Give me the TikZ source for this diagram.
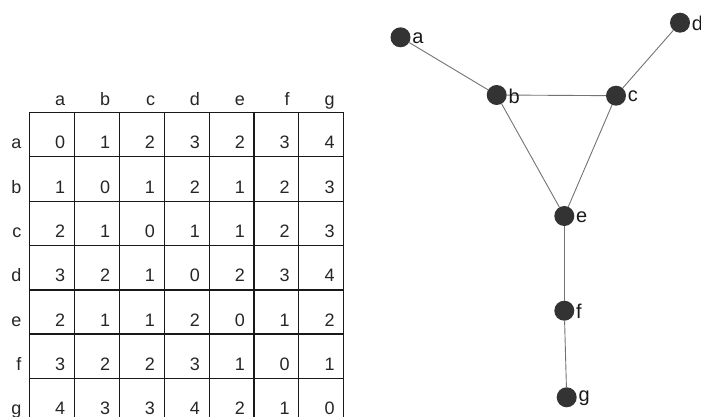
\documentclass[tikz,border=0pt]{standalone}
\usepackage{fontspec}
\setmainfont{Liberation Sans}
\begin{document}
\begin{tikzpicture}[x=1pt,y=-1pt,
  cell/.style={anchor=base east,inner sep=0pt,font=\fontsize{18}{18}\selectfont,text=black!85},
  vert/.style={circle,fill=black!80,draw=none,minimum size=20pt,inner sep=0pt},
  vlab/.style={anchor=west,inner sep=0pt,font=\fontsize{20}{20}\selectfont,text=black!90},
  edge/.style={draw=black!55,line width=0.9pt},
  grid/.style={draw=black!90,line width=1.1pt}]
\useasboundingbox (0,0) rectangle (701,417);
\begin{scope}
\clip (0,0) rectangle (701,417);
% table grid
\foreach \i in {0,...,7} {
  \pgfmathsetmacro\xx{29.5+44.9*\i}
  \draw[grid] (\xx,112.5) -- (\xx,422.6);
  \pgfmathsetmacro\yy{112.5+44.3*\i}
  \draw[grid] (29.5,\yy) -- (343.8,\yy);
}
\draw[grid,line width=1.6pt] (29.5,289.7) -- (343.8,289.7);
% headers
\foreach \l [count=\c] in {a,b,c,d,e,f,g} {
  \pgfmathsetmacro\xx{29.5+44.9*\c-9}
  \node[cell] (h-\c) at (\xx,106) {\l};
  \pgfmathsetmacro\yy{112.5+44.3*\c-8}
  \node[cell] (r-\c) at (21.5,\yy) {\l};
}
% values
\foreach \row [count=\r] in {{0,1,2,3,2,3,4},{1,0,1,2,1,2,3},{2,1,0,1,1,2,3},{3,2,1,0,2,3,4},{2,1,1,2,0,1,2},{3,2,2,3,1,0,1},{4,3,3,4,2,1,0}} {
  \foreach \v [count=\c] in \row {
    \pgfmathsetmacro\xx{29.5+44.9*\c-9}
    \pgfmathsetmacro\yy{112.5+44.3*\r-8}
    \node[cell] (v-\r-\c) at (\xx,\yy) {\v};
  }
}
% graph
\node[vert] (a) at (400.5,37.3) {};
\node[vert] (b) at (496.7,95) {};
\node[vert] (c) at (616,95.7) {};
\node[vert] (d) at (680,22.7) {};
\node[vert] (e) at (564.3,216) {};
\node[vert] (f) at (564.3,310.7) {};
\node[vert] (g) at (566.7,397.3) {};
\draw[edge] (a) -- (b);
\draw[edge] (b) -- (c);
\draw[edge] (c) -- (d);
\draw[edge] (b) -- (e);
\draw[edge] (c) -- (e);
\draw[edge] (e) -- (f);
\draw[edge] (f) -- (g);
\foreach \n in {a,b,c,d,e,f,g} {
  \node[vlab] (l-\n) at ([xshift=1.5pt,yshift=-1pt]\n.east) {\n};
}
\end{scope}
\end{tikzpicture}
\end{document}
